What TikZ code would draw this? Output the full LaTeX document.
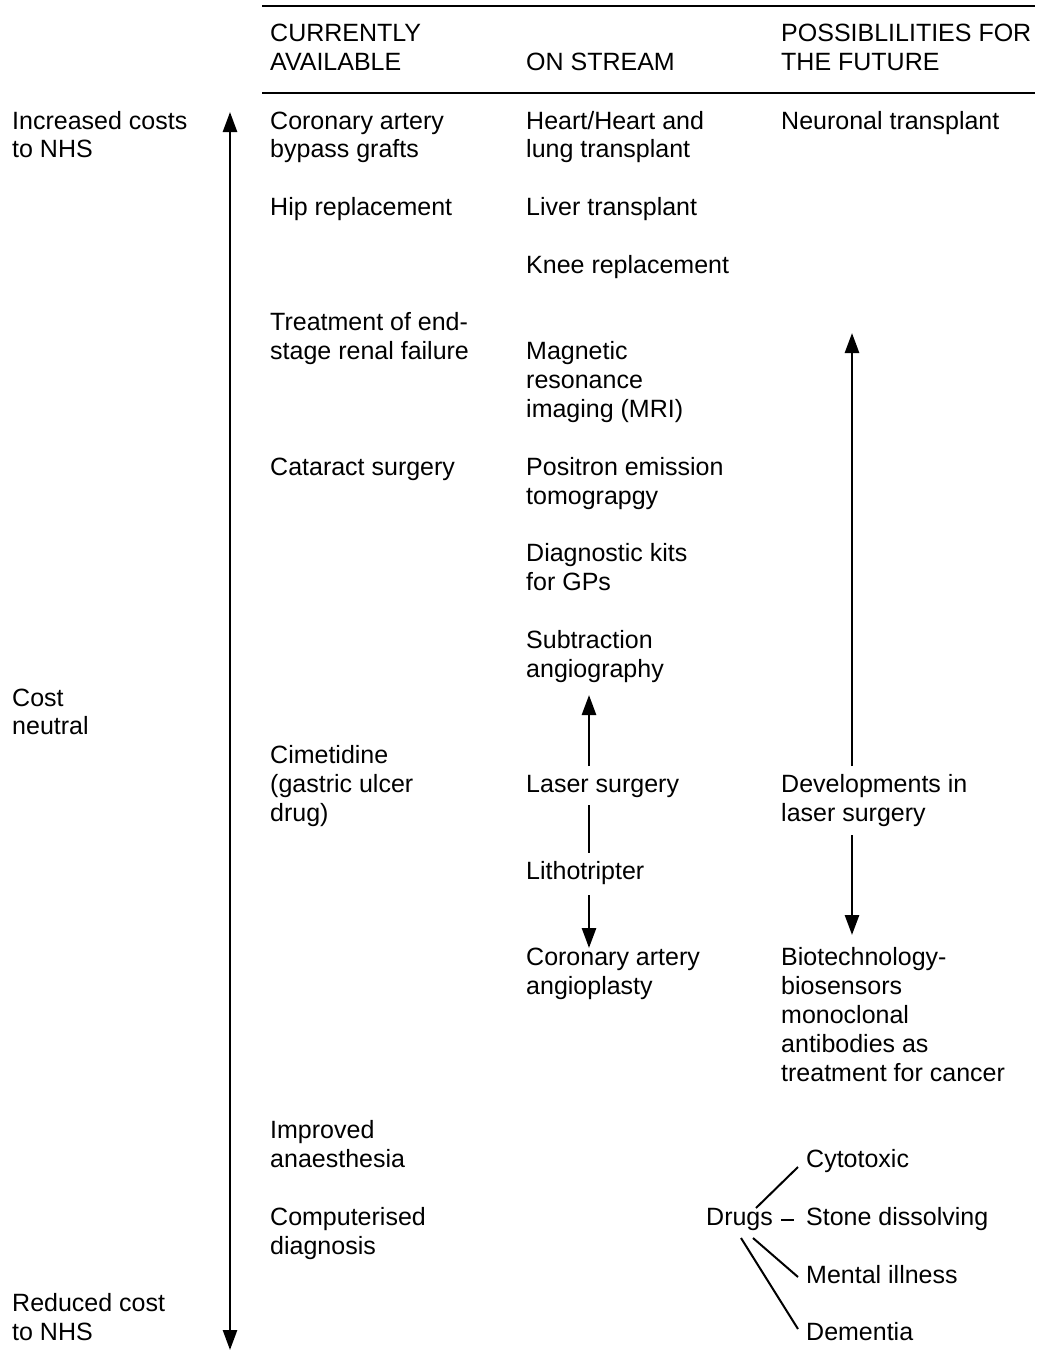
\documentclass[tikz,border=0pt]{standalone}
\usepackage{fontspec}
\setmainfont{Liberation Sans}
\usetikzlibrary{arrows.meta}
\begin{document}
\begin{tikzpicture}[x=1pt,y=-1pt,
  txt/.style={anchor=base west, inner sep=0pt, align=left, font=\fontsize{25}{28.85}\selectfont},
  arr/.style={line width=2.7pt, -{Triangle[length=20pt,width=14pt]}},
  darr/.style={line width=2.7pt, {Triangle[length=20pt,width=14pt]}-{Triangle[length=20pt,width=14pt]}},
  plainline/.style={line width=2.7pt},
  branch/.style={line width=2pt},
  rulestyle/.style={line width=2.8pt}]
\useasboundingbox (0,0) rectangle (1037,1355);

% rules
\coordinate (rt1) at (262,6);   \coordinate (rt2) at (1035,6);
\coordinate (rb1) at (262,93);  \coordinate (rb2) at (1035,93);
\draw[rulestyle] (rt1) -- (rt2);
\draw[rulestyle] (rb1) -- (rb2);

% header (anchor = baseline of last line)
\node[txt] (h1) at (270,70) {CURRENTLY\\AVAILABLE};
\node[txt] (h2) at (526,70) {ON STREAM};
\node[txt] (h3) at (781,70) {POSSIBLILITIES FOR\\THE FUTURE};

% left scale
\node[txt] (inc) at (12,157.85) {Increased costs\\to NHS};
\node[txt] (neu) at (12,734.85) {Cost\\neutral};
\node[txt] (red) at (12,1340.7) {Reduced cost\\to NHS};
\coordinate (axtop) at (230,112);
\coordinate (axbot) at (230,1350);
\draw[darr] (axtop) -- (axbot);

% column 1
\node[txt] (c1a) at (270,157.85) {Coronary artery\\bypass grafts};
\node[txt] (c1b) at (270,215.55) {Hip replacement};
\node[txt] (c1c) at (270,359.8) {Treatment of end-\\stage renal failure};
\node[txt] (c1d) at (270,475.2) {Cataract surgery};
\node[txt] (c1e) at (270,821.4) {Cimetidine\\(gastric ulcer\\drug)};
\node[txt] (c1f) at (270,1167.6) {Improved\\anaesthesia};
\node[txt] (c1g) at (270,1254.15) {Computerised\\diagnosis};

% column 2
\node[txt] (c2a) at (526,157.85) {Heart/Heart and\\lung transplant};
\node[txt] (c2b) at (526,215.55) {Liver transplant};
\node[txt] (c2c) at (526,273.25) {Knee replacement};
\node[txt] (c2d) at (526,417.5) {Magnetic\\resonance\\imaging (MRI)};
\node[txt] (c2e) at (526,504.05) {Positron emission\\tomograpgy};
\node[txt] (c2f) at (526,590.6) {Diagnostic kits\\for GPs};
\node[txt] (c2g) at (526,677.15) {Subtraction\\angiography};
\node[txt] (c2h) at (526,792.55) {Laser surgery};
\node[txt] (c2i) at (526,879.1) {Lithotripter};
\node[txt] (c2j) at (526,994.5) {Coronary artery\\angioplasty};

\coordinate (m1a) at (589,766); \coordinate (m1b) at (589,695);
\coordinate (m2a) at (589,805); \coordinate (m2b) at (589,853);
\coordinate (m3a) at (589,895); \coordinate (m3b) at (589,948);
\draw[arr] (m1a) -- (m1b);
\draw[plainline] (m2a) -- (m2b);
\draw[arr] (m3a) -- (m3b);

% column 3
\node[txt] (c3a) at (781,129) {Neuronal transplant};
\node[txt] (c3b) at (781,821.4) {Developments in\\laser surgery};
\node[txt] (c3c) at (781,1081.05) {Biotechnology-\\biosensors\\monoclonal\\antibodies as\\treatment for cancer};

\coordinate (r1a) at (852,766); \coordinate (r1b) at (852,333);
\coordinate (r2a) at (852,835); \coordinate (r2b) at (852,935);
\draw[arr] (r1a) -- (r1b);
\draw[arr] (r2a) -- (r2b);

% drugs
\node[txt] (drugs) at (706,1225.3) {Drugs};
\node[txt] (d1) at (806,1167.6) {Cytotoxic};
\node[txt] (d2) at (806,1225.3) {Stone dissolving};
\node[txt] (d3) at (806,1283) {Mental illness};
\node[txt] (d4) at (806,1340.7) {Dementia};

\coordinate (b1a) at (756,1208);   \coordinate (b1b) at (798,1167);
\coordinate (b2a) at (781,1219.5); \coordinate (b2b) at (794,1219.5);
\coordinate (b3a) at (753,1238);   \coordinate (b3b) at (798,1277);
\coordinate (b4a) at (741,1238);   \coordinate (b4b) at (798,1329);
\draw[branch] (b1a) -- (b1b);
\draw[branch] (b2a) -- (b2b);
\draw[branch] (b3a) -- (b3b);
\draw[branch] (b4a) -- (b4b);
\end{tikzpicture}
\end{document}
